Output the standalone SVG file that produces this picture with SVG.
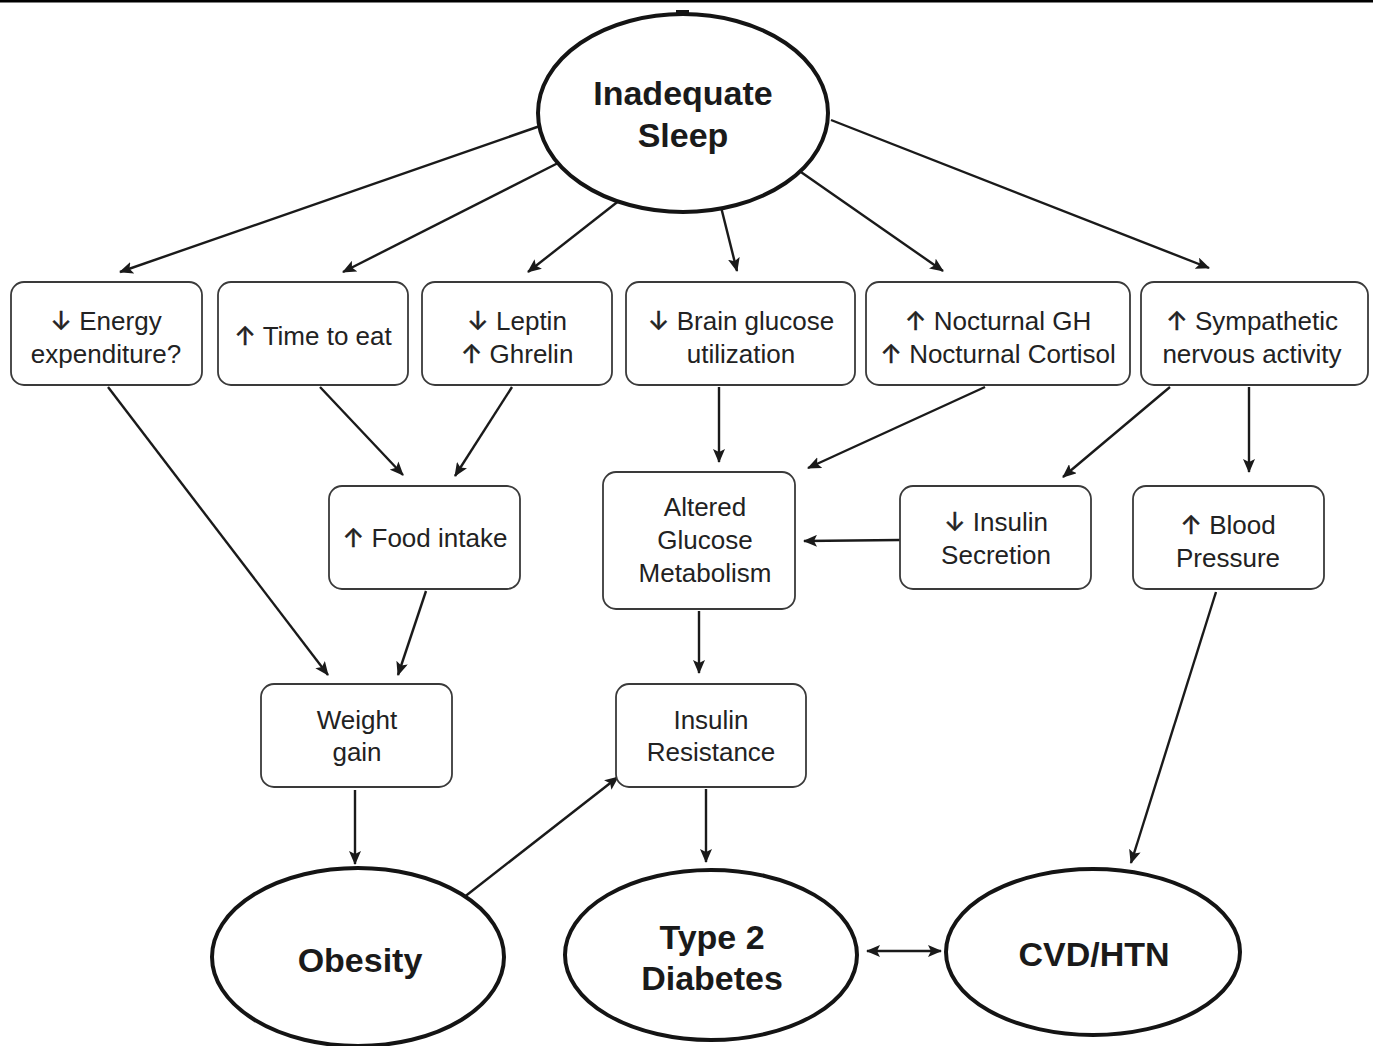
<svg xmlns="http://www.w3.org/2000/svg" width="1373" height="1046" viewBox="0 0 1373 1046">
  <defs>
    <marker id="arrow" markerUnits="userSpaceOnUse" markerWidth="14" markerHeight="12" refX="13" refY="6" orient="auto">
      <path d="M0,0 L14,6 L0,12 L3,6 Z" fill="#1a1a1a"/>
    </marker>
    <marker id="arrowStart" markerUnits="userSpaceOnUse" markerWidth="14" markerHeight="12" refX="1" refY="6" orient="auto">
      <path d="M14,0 L0,6 L14,12 L11,6 Z" fill="#1a1a1a"/>
    </marker>
    <style>
      .box { fill: #fff; stroke: #3a3a3a; stroke-width: 1.8; }
      .oval { fill: #fff; stroke: #141414; stroke-width: 4; }
      .t { font-family: "Liberation Sans", Arial, sans-serif; font-size: 26px; fill: #222; text-anchor: middle; }
      .ar { font-family: Inter, "DejaVu Sans", sans-serif; font-size: 26px; fill: #222; stroke: #222; stroke-width: 0.5; }
      .b { font-family: "Liberation Sans", Arial, sans-serif; font-size: 34px; font-weight: bold; fill: #1a1a1a; text-anchor: middle; }
      .c { stroke: #1a1a1a; stroke-width: 2.4; fill: none; marker-end: url(#arrow); }
    </style>
  </defs>

  <rect width="1373" height="1046" fill="#fff"/>
  <!-- rule along the top edge -->
  <rect x="0" y="0" width="1373" height="2.5" fill="#000"/>

  <!-- connectors -->
  <g id="connectors">
    <line class="c" x1="540" y1="126" x2="120" y2="272"/>
    <line class="c" x1="560" y1="162" x2="343" y2="272"/>
    <line class="c" x1="625" y1="196" x2="528" y2="272"/>
    <line class="c" x1="720" y1="203" x2="737" y2="271"/>
    <line class="c" x1="798" y1="170" x2="943" y2="271"/>
    <line class="c" x1="831" y1="120" x2="1209" y2="268"/>

    <line class="c" x1="108" y1="387" x2="328" y2="675"/>
    <line class="c" x1="320" y1="387" x2="403" y2="475"/>
    <line class="c" x1="512" y1="387" x2="455" y2="476"/>
    <line class="c" x1="426" y1="591" x2="398" y2="675"/>

    <line class="c" x1="719" y1="387" x2="719" y2="462"/>
    <line class="c" x1="985" y1="387" x2="808" y2="468"/>
    <line class="c" x1="1170" y1="387" x2="1063" y2="477"/>
    <line class="c" x1="1249" y1="387" x2="1249" y2="472"/>
    <line class="c" x1="900" y1="540" x2="804" y2="541"/>

    <line class="c" x1="699" y1="611" x2="699" y2="673"/>
    <line class="c" x1="355" y1="790" x2="355" y2="864"/>
    <line class="c" x1="463" y1="898" x2="618" y2="777"/>
    <line class="c" x1="706" y1="789" x2="706" y2="862"/>
    <line class="c" x1="1216" y1="592" x2="1131" y2="863"/>
    <line class="c" x1="867" y1="951" x2="941" y2="951" marker-start="url(#arrowStart)"/>
  </g>

  <!-- root cause -->
  <g id="inadequate-sleep">
    <ellipse class="oval" cx="683" cy="113" rx="145" ry="99"/>
    <rect x="676" y="10" width="13" height="4" fill="#141414"/>
    <text class="b" x="683" y="105">Inadequate</text>
    <text class="b" x="683" y="147">Sleep</text>
  </g>

  <!-- first tier -->
  <g id="energy-expenditure">
    <rect class="box" x="11" y="282" width="191" height="103" rx="13"/>
    <text class="t" x="106" y="330"><tspan class="ar">↓</tspan> Energy</text>
    <text class="t" x="106" y="363">expenditure?</text>
  </g>
  <g id="time-to-eat">
    <rect class="box" x="218" y="282" width="190" height="103" rx="13"/>
    <text class="t" x="313" y="345"><tspan class="ar">↑</tspan> Time to eat</text>
  </g>
  <g id="leptin-ghrelin">
    <rect class="box" x="422" y="282" width="190" height="103" rx="13"/>
    <text class="t" x="517" y="330"><tspan class="ar">↓</tspan> Leptin</text>
    <text class="t" x="517" y="363"><tspan class="ar">↑</tspan> Ghrelin</text>
  </g>
  <g id="brain-glucose">
    <rect class="box" x="626" y="282" width="229" height="103" rx="13"/>
    <text class="t" x="741" y="330"><tspan class="ar">↓</tspan> Brain glucose</text>
    <text class="t" x="741" y="363">utilization</text>
  </g>
  <g id="nocturnal-gh-cortisol">
    <rect class="box" x="866" y="282" width="264" height="103" rx="13"/>
    <text class="t" x="998" y="330"><tspan class="ar">↑</tspan> Nocturnal GH</text>
    <text class="t" x="998" y="363"><tspan class="ar">↑</tspan> Nocturnal Cortisol</text>
  </g>
  <g id="sympathetic-activity">
    <rect class="box" x="1141" y="282" width="227" height="103" rx="13"/>
    <text class="t" x="1252" y="330"><tspan class="ar">↑</tspan> Sympathetic</text>
    <text class="t" x="1252" y="363">nervous activity</text>
  </g>

  <!-- second tier -->
  <g id="food-intake">
    <rect class="box" x="329" y="486" width="191" height="103" rx="13"/>
    <text class="t" x="425" y="547"><tspan class="ar">↑</tspan> Food intake</text>
  </g>
  <g id="altered-glucose">
    <rect class="box" x="603" y="472" width="192" height="137" rx="13"/>
    <text class="t" x="705" y="516">Altered</text>
    <text class="t" x="705" y="549">Glucose</text>
    <text class="t" x="705" y="582">Metabolism</text>
  </g>
  <g id="insulin-secretion">
    <rect class="box" x="900" y="486" width="191" height="103" rx="13"/>
    <text class="t" x="996" y="531"><tspan class="ar">↓</tspan> Insulin</text>
    <text class="t" x="996" y="564">Secretion</text>
  </g>
  <g id="blood-pressure">
    <rect class="box" x="1133" y="486" width="191" height="103" rx="13"/>
    <text class="t" x="1228" y="534"><tspan class="ar">↑</tspan> Blood</text>
    <text class="t" x="1228" y="567">Pressure</text>
  </g>

  <!-- third tier -->
  <g id="weight-gain">
    <rect class="box" x="261" y="684" width="191" height="103" rx="13"/>
    <text class="t" x="357" y="729">Weight</text>
    <text class="t" x="357" y="761">gain</text>
  </g>
  <g id="insulin-resistance">
    <rect class="box" x="616" y="684" width="190" height="103" rx="13"/>
    <text class="t" x="711" y="729">Insulin</text>
    <text class="t" x="711" y="761">Resistance</text>
  </g>

  <!-- outcomes -->
  <g id="obesity">
    <ellipse class="oval" cx="358" cy="957" rx="146" ry="89"/>
    <text class="b" x="360" y="972">Obesity</text>
  </g>
  <g id="type-2-diabetes">
    <ellipse class="oval" cx="711" cy="955" rx="146" ry="85"/>
    <text class="b" x="712" y="949">Type 2</text>
    <text class="b" x="712" y="990">Diabetes</text>
  </g>
  <g id="cvd-htn">
    <ellipse class="oval" cx="1093" cy="952" rx="147" ry="83"/>
    <text class="b" x="1094" y="966">CVD/HTN</text>
  </g>
</svg>
